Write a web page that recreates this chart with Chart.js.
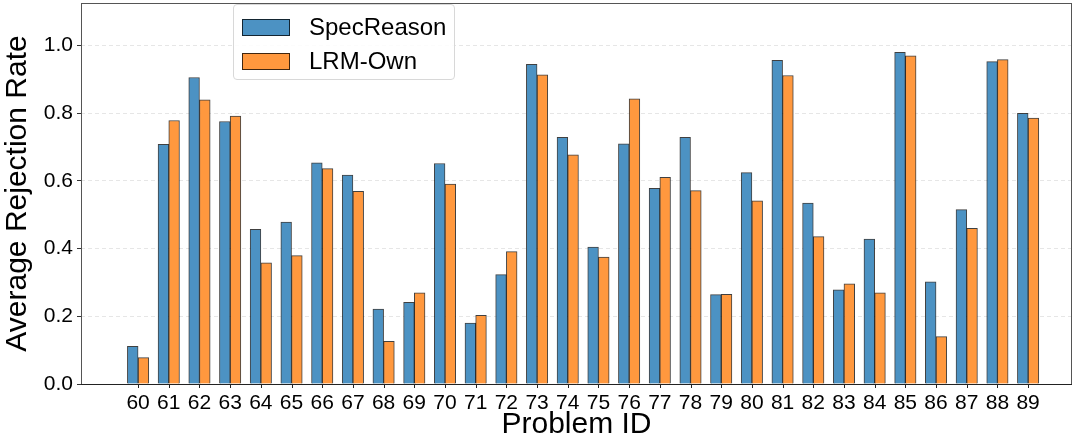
<!DOCTYPE html>
<html>
<head>
<meta charset="utf-8">
<script src="https://cdn.jsdelivr.net/npm/chart.js@4.4.1/dist/chart.umd.min.js"></script>
<style>
  html, body { margin: 0; padding: 0; background: #fff; }
  #wrap { position: relative; width: 1080px; height: 444px; }
  #legend {
    position: absolute; left: 233px; top: 4px; width: 220px; height: 74px;
    border: 1px solid #d8d8d8; border-radius: 4px; background: rgba(255,255,255,0.85);
    font-family: "Liberation Sans", Arial, sans-serif; font-size: 24px; color: #000;
  }
  .item { position: absolute; left: 8px; height: 24px; display: flex; align-items: center; }
  .sw { width: 46px; height: 15px; border: 1px solid rgba(0,0,0,0.75); margin-right: 19px; }
</style>
</head>
<body>
<div id="wrap">
  <canvas id="chart" width="1080" height="444"></canvas>
  <div id="legend">
    <div class="item" style="top:10px"><div class="sw" style="background:#4c92c3"></div>SpecReason</div>
    <div class="item" style="top:44px"><div class="sw" style="background:#ff983e"></div>LRM-Own</div>
  </div>
</div>
<script>
// Problem IDs along the x axis
const problemIds = ['60','61','62','63','64','65','66','67','68','69',
                    '70','71','72','73','74','75','76','77','78','79',
                    '80','81','82','83','84','85','86','87','88','89'];

// Average rejection rate per problem
const specReason = [0.111, 0.708, 0.905, 0.775, 0.457, 0.478, 0.653, 0.617, 0.221, 0.241,
                    0.651, 0.180, 0.323, 0.944, 0.728, 0.404, 0.709, 0.578, 0.728, 0.264,
                    0.624, 0.956, 0.534, 0.278, 0.428, 0.979, 0.302, 0.515, 0.952, 0.799];
const lrmOwn     = [0.078, 0.778, 0.839, 0.791, 0.358, 0.379, 0.636, 0.569, 0.126, 0.269,
                    0.590, 0.203, 0.391, 0.913, 0.677, 0.375, 0.842, 0.610, 0.571, 0.265,
                    0.541, 0.911, 0.435, 0.296, 0.269, 0.969, 0.140, 0.460, 0.958, 0.785];

const yTicks = [0.0, 0.2, 0.4, 0.6, 0.8, 1.0];

const font = 'Liberation Sans, Arial, sans-serif';

// box around the plot area (matplotlib spines) plus x tick marks
const frame = {
  id: 'frame',
  afterDatasetsDraw(chart) {
    const { ctx, chartArea: a } = chart;
    const xs = chart.scales.x;
    ctx.save();
    ctx.strokeStyle = '#555';
    ctx.lineWidth = 1;
    ctx.strokeRect(a.left + 0.5, a.top + 0.5, a.right - a.left - 1, a.bottom - a.top);
    ctx.strokeStyle = '#222';
    ctx.beginPath();
    ctx.moveTo(a.left, a.bottom + 0.5);
    ctx.lineTo(a.right, a.bottom + 0.5);
    problemIds.forEach((_, i) => {
      const px = Math.round(xs.getPixelForValue(i)) + 0.5;
      ctx.moveTo(px, a.bottom);
      ctx.lineTo(px, a.bottom + 4);
    });
    ctx.stroke();
    ctx.restore();
  }
};

new Chart(document.getElementById('chart'), {
  type: 'bar',
  data: {
    datasets: [
      {
        label: 'SpecReason',
        data: specReason.map((v, i) => ({ x: i, y: v })),
        backgroundColor: '#4c92c3',
        borderColor: 'rgba(0,0,0,0.75)',
        borderWidth: 1,
        borderSkipped: 'bottom'
      },
      {
        label: 'LRM-Own',
        data: lrmOwn.map((v, i) => ({ x: i, y: v })),
        backgroundColor: '#ff983e',
        borderColor: 'rgba(0,0,0,0.75)',
        borderWidth: 1,
        borderSkipped: 'bottom'
      }
    ]
  },
  options: {
    responsive: false,
    animation: false,
    barThickness: 10.7,
    layout: { padding: { top: 3, right: 8, left: 0, bottom: 0 } },
    plugins: { legend: { display: false }, tooltip: { enabled: false } },
    scales: {
      x: {
        type: 'linear',
        min: -1.86,
        max: 30.43,
        offset: false,
        afterBuildTicks: s => { s.ticks = problemIds.map((_, i) => ({ value: i })); },
        afterFit: s => { s.height = 60; s.paddingLeft = 0; s.paddingRight = 0; },
        grid: { offset: false, drawOnChartArea: false, drawTicks: true, tickLength: 4, tickColor: 'rgba(0,0,0,0)' },
        border: { display: false },
        ticks: {
          autoSkip: false, maxRotation: 0, padding: 3, color: '#000',
          font: { family: font, size: 21 },
          callback: v => problemIds[v]
        },
        title: {
          display: true, text: 'Problem ID', color: '#000',
          font: { family: font, size: 30 }, padding: { top: 0, bottom: 1 }
        }
      },
      y: {
        min: 0,
        max: 1.125,
        afterBuildTicks: s => { s.ticks = yTicks.map(v => ({ value: v })); },
        afterFit: s => { s.width = 81; s.paddingTop = 0; s.paddingBottom = 0; },
        grid: {
          color: '#e6e6e6', drawTicks: true, tickLength: 4,
          tickColor: '#333', tickBorderDash: []
        },
        border: { display: false, dash: [4, 3] },
        ticks: {
          padding: 4, color: '#000',
          font: { family: font, size: 21 },
          callback: v => v.toFixed(1)
        },
        title: {
          display: true, text: 'Average Rejection Rate', color: '#000',
          font: { family: font, size: 30 }, padding: { top: 0, bottom: 3 }
        }
      }
    }
  },
  plugins: [frame]
});
</script>
</body>
</html>
